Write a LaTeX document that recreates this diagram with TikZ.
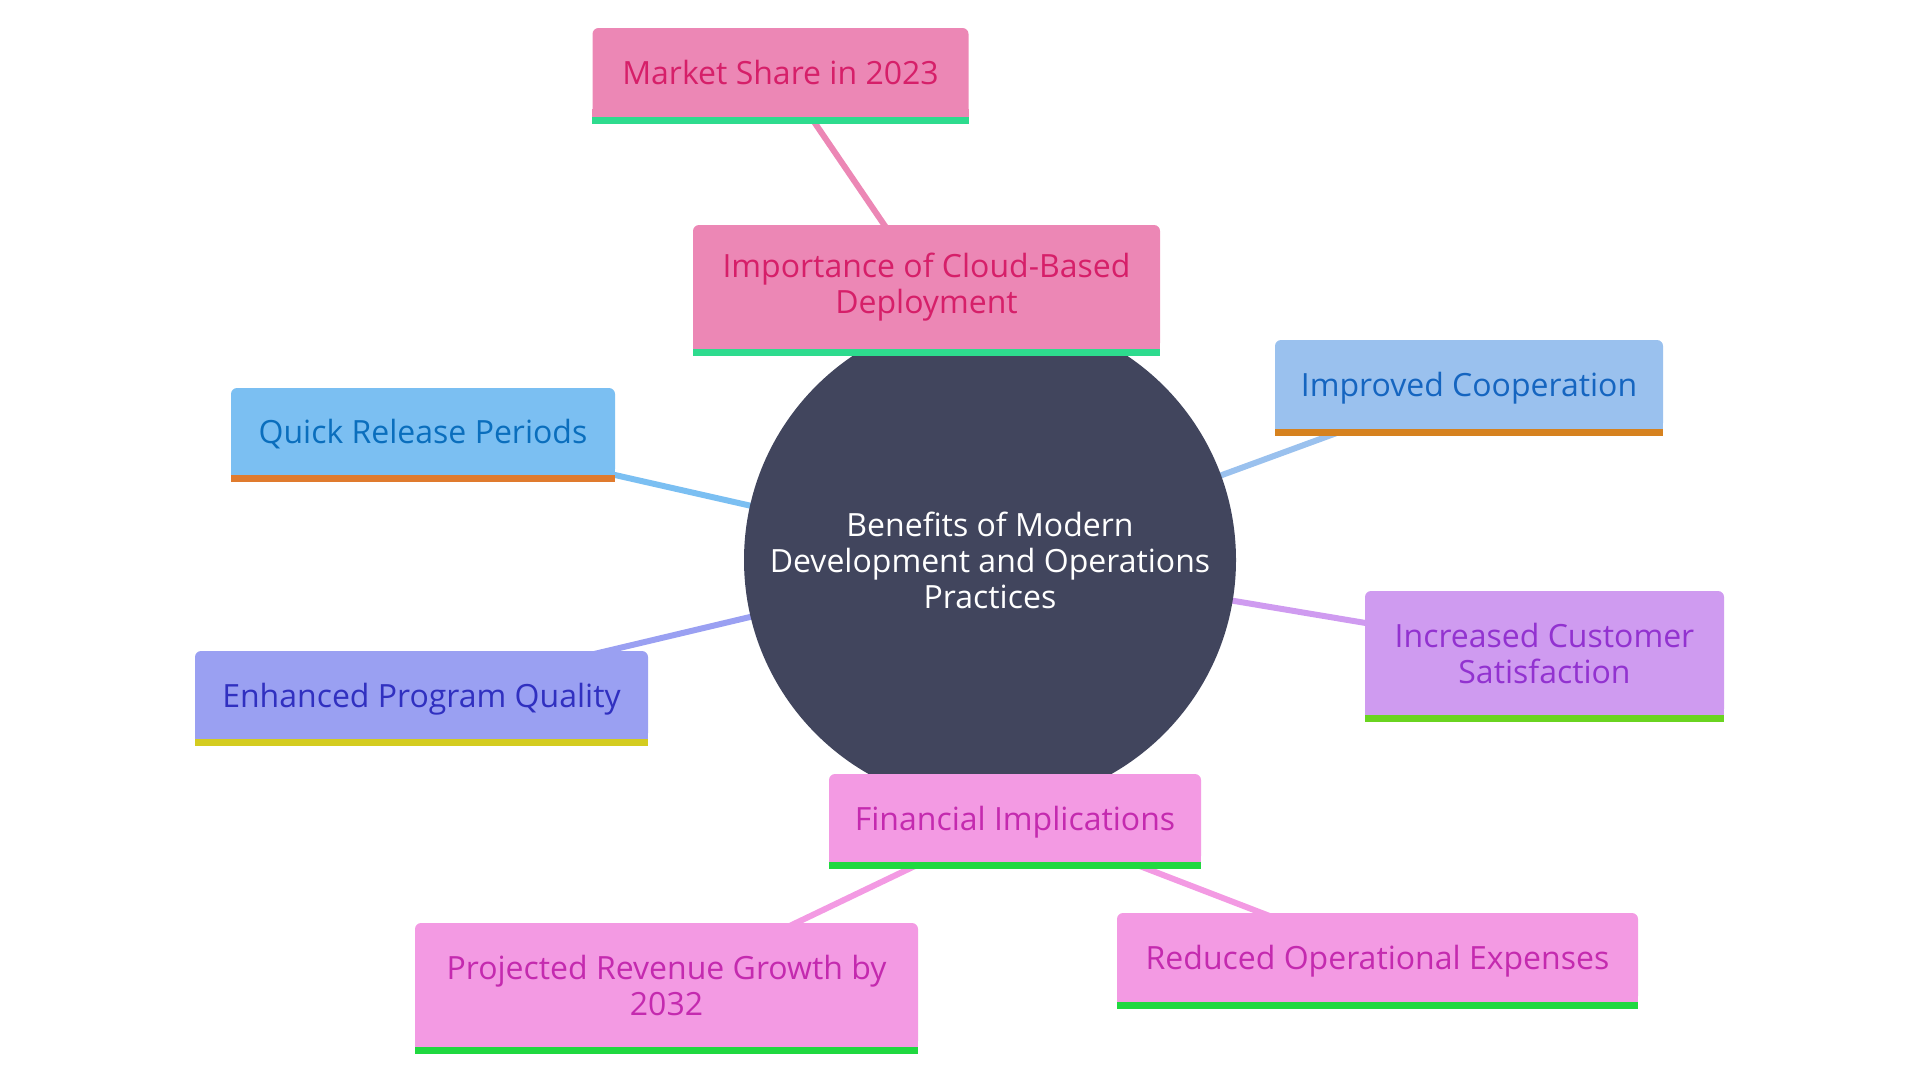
\documentclass[tikz,border=0pt]{standalone}
\usepackage{fontspec}
\setmainfont{Open Sans}
\pgfdeclarelayer{bg}
\pgfsetlayers{bg,main}
\definecolor{hub}{HTML}{41455D}
\definecolor{pinkF}{HTML}{EC87B5}\definecolor{pinkT}{HTML}{D61F69}\definecolor{pinkB}{HTML}{2EDB8E}
\definecolor{quickF}{HTML}{7BBFF2}\definecolor{quickT}{HTML}{0A6EBD}\definecolor{quickB}{HTML}{E07B2E}
\definecolor{coopF}{HTML}{9AC1EE}\definecolor{coopT}{HTML}{1565C0}\definecolor{coopB}{HTML}{D6821F}
\definecolor{enhF}{HTML}{9AA0F2}\definecolor{enhT}{HTML}{3030C0}\definecolor{enhB}{HTML}{D4CC20}
\definecolor{custF}{HTML}{CF9BF0}\definecolor{custT}{HTML}{9232D0}\definecolor{custB}{HTML}{6AD420}
\definecolor{finF}{HTML}{F39AE3}\definecolor{finT}{HTML}{C42AAF}\definecolor{finB}{HTML}{20D840}
\tikzset{
  box/.style={rectangle, rounded corners=6pt, inner sep=0pt, align=center,
    font=\fontsize{32}{36}\selectfont},
  oneline/.style={box, text height=24pt, text depth=0pt},
  edge/.style={line width=6pt},
}
\begin{document}
\begin{tikzpicture}[x=1pt,y=-1pt]
\useasboundingbox (0,0) rectangle (1920,1080);
\node[circle, fill=hub, minimum size=492pt, inner sep=0pt, align=center, text=white,
  font=\fontsize{32}{36}\selectfont] (c) at (990,560)
  {Benefits of Modern\\Development and Operations\\Practices};
\node[oneline, fill=pinkF, text=pinkT, minimum width=376pt, minimum height=89pt] (ms) at (780.5,72.5) {Market Share in 2023};
\node[box, fill=pinkF, text=pinkT, minimum width=467pt, minimum height=124pt] (cloud) at (926.5,287) {Importance of Cloud-Based\\Deployment};
\node[oneline, fill=coopF, text=coopT, minimum width=388pt, minimum height=89pt] (coop) at (1469,384.5) {Improved Cooperation};
\node[oneline, fill=quickF, text=quickT, minimum width=384pt, minimum height=87pt] (quick) at (423,431.5) {Quick Release Periods};
\node[oneline, fill=enhF, text=enhT, minimum width=453pt, minimum height=88pt] (enh) at (421.5,695) {Enhanced Program Quality};
\node[box, fill=custF, text=custT, minimum width=359pt, minimum height=124pt] (cust) at (1544.5,653) {Increased Customer\\Satisfaction};
\node[oneline, fill=finF, text=finT, minimum width=372pt, minimum height=88pt] (fin) at (1015,818) {Financial Implications};
\node[box, fill=finF, text=finT, minimum width=503pt, minimum height=124pt] (proj) at (666.5,985) {Projected Revenue Growth by\\2032};
\node[oneline, fill=finF, text=finT, minimum width=521pt, minimum height=89pt] (red) at (1377.5,957.5) {Reduced Operational Expenses};
\foreach \n/\f/\b in {ms/pinkF/pinkB, cloud/pinkF/pinkB, coop/coopF/coopB, quick/quickF/quickB, enh/enhF/enhB, cust/custF/custB, fin/finF/finB, proj/finF/finB, red/finF/finB}{
  \fill[\f] ([yshift=8pt]\n.south west) rectangle (\n.south east);
  \fill[\b] (\n.south west) rectangle ([yshift=-7pt]\n.south east);
}
\begin{pgfonlayer}{bg}
\draw[edge, pinkF] (ms.center) -- (cloud.center);
\draw[edge, pinkF] (cloud.center) -- (c.center);
\draw[edge, quickF] (quick.center) -- (c.center);
\draw[edge, enhF] (enh.center) -- (c.center);
\draw[edge, coopF] (coop.center) -- (c.center);
\draw[edge, custF] (cust.center) -- (c.center);
\draw[edge, finF] (fin.center) -- (c.center);
\draw[edge, finF] (fin.center) -- (proj.center);
\draw[edge, finF] (fin.center) -- (red.center);
\end{pgfonlayer}
\end{tikzpicture}
\end{document}
